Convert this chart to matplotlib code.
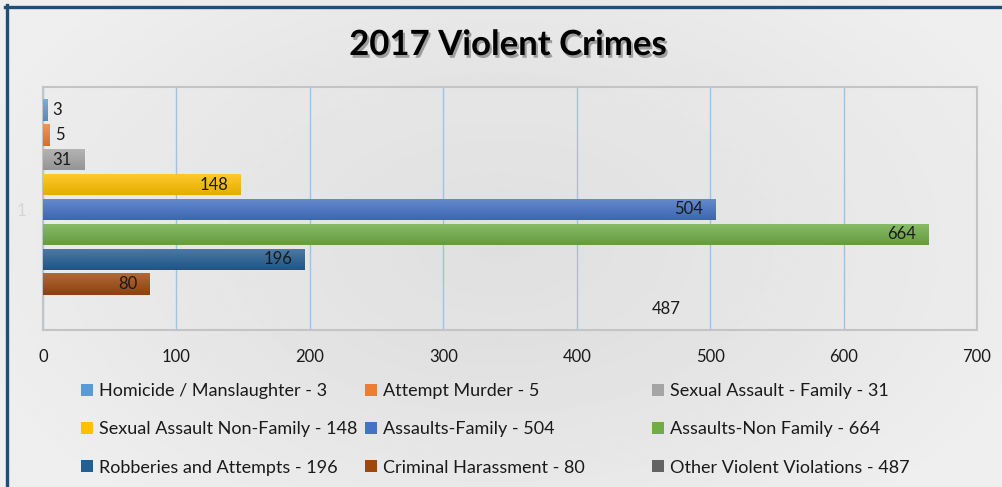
import numpy as np
import matplotlib.pyplot as plt
import matplotlib.patheffects as pe
from matplotlib.colors import to_rgb
from matplotlib.patches import Patch
from matplotlib.lines import Line2D

plt.rcParams['font.family'] = ['Lato', 'DejaVu Sans']

crimes = ['Homicide / Manslaughter', 'Attempt Murder', 'Sexual Assault - Family',
          'Sexual Assault Non-Family', 'Assaults-Family', 'Assaults-Non Family',
          'Robberies and Attempts', 'Criminal Harassment', 'Other Violent Violations']
counts = [3, 5, 31, 148, 504, 664, 196, 80, 487]
colors = ['#5B9BD5', '#ED7D31', '#A5A5A5', '#FFC000', '#4472C4', '#70AD47',
          '#255E91', '#9E480E', '#636363']
xticks = [0, 100, 200, 300, 400, 500, 600, 700]

fig = plt.figure(figsize=(10.02, 4.87), dpi=100)

# grey gradient background, lighter at the edges
bg = fig.add_axes([0, 0, 1, 1], zorder=-10)
gx = np.linspace(-1, 1, 400)
gy = np.linspace(-1, 1, 200)
X, Y = np.meshgrid(gx, gy)
shade = 0.855 + 0.08 * np.clip(np.sqrt((X * 0.9) ** 2 + (Y * 0.7) ** 2), 0, 1)
bg.imshow(shade, cmap='gray', vmin=0, vmax=1, aspect='auto', extent=[0, 1, 0, 1])
bg.axis('off')

ax = fig.add_axes([43 / 1002, 1 - 330 / 487, 934 / 1002, 243 / 487])
ax.set_facecolor((0.92, 0.92, 0.92, 0.35))

y = np.arange(len(counts))
h = 0.86
bars = ax.barh(y, counts, height=h, color=colors, zorder=3)
# in the original the last bar is not drawn, only its label is shown
bars[-1].set_alpha(0)

# light-to-dark vertical gradient on each drawn bar
for b, c, v, i in zip(bars[:-1], colors[:-1], counts[:-1], y[:-1]):
    base = np.array(to_rgb(c))
    t = np.linspace(0, 1, 32)[:, None]
    top = base + (1 - base) * 0.18
    bot = base * 0.9
    grad = (top * (1 - t) + bot * t)[:, None, :]
    im = ax.imshow(grad, aspect='auto', extent=[0, v, i + h / 2, i - h / 2],
                   origin='upper', zorder=3.5)
    im.set_clip_path(b)

for i, v in enumerate(counts):
    if v < 20:
        ax.annotate(str(v), (v, i), xytext=(4, 0), textcoords='offset points',
                    ha='left', va='center', fontsize=12, color='#1a1a1a', zorder=5)
    else:
        ax.annotate(str(v), (v, i), xytext=(-9, 0), textcoords='offset points',
                    ha='right', va='center', fontsize=12, color='#1a1a1a', zorder=5)

ax.set_xlim(0, 700)
ax.set_ylim(8.84, -0.92)
ax.set_xticks(xticks)
ax.grid(axis='x', color='#9DC3E6', lw=1, zorder=1)
ax.set_yticks([4])
ax.set_yticklabels(['1'])
ax.tick_params(axis='x', length=0, pad=14, labelsize=12, labelcolor='#1a1a1a')
ax.tick_params(axis='y', length=0, pad=12, labelsize=12, labelcolor='#d4d4d4')
for s in ax.spines.values():
    s.set_color('#c4c4c4')
    s.set_linewidth(1.5)

fig.text(0.507, 1 - 45 / 487, '2017 Violent Crimes', ha='center', va='center',
         fontsize=25, fontweight='bold', color='black',
         path_effects=[pe.SimplePatchShadow(offset=(1.5, -2), shadow_rgbFace='#555555', alpha=0.5),
                       pe.Normal()])

# legend: three columns, filled row by row
col_x = [81, 365, 652]
for c in range(3):
    idx = [r * 3 + c for r in range(3)]
    handles = [Patch(facecolor=colors[k], edgecolor='none') for k in idx]
    labels = [f'{crimes[k]} - {counts[k]}' for k in idx]
    fig.legend(handles, labels, loc='upper left',
               bbox_to_anchor=(col_x[c] / 1002, 1 - 383 / 487),
               frameon=False, fontsize=13, handlelength=0.64, handleheight=0.64,
               handletextpad=0.38, labelspacing=1.24, borderpad=0, borderaxespad=0,
               labelcolor='#1a1a1a')

# chart border
fig.add_artist(Line2D([6.5 / 1002, 6.5 / 1002], [0, 1 - 5 / 487], color='#1F4E79', lw=2.4,
                      transform=fig.transFigure))
fig.add_artist(Line2D([5 / 1002, 1], [1 - 6.5 / 487, 1 - 6.5 / 487], color='#1F4E79', lw=2.4,
                      transform=fig.transFigure))

fig.savefig('out.png', dpi=100)
